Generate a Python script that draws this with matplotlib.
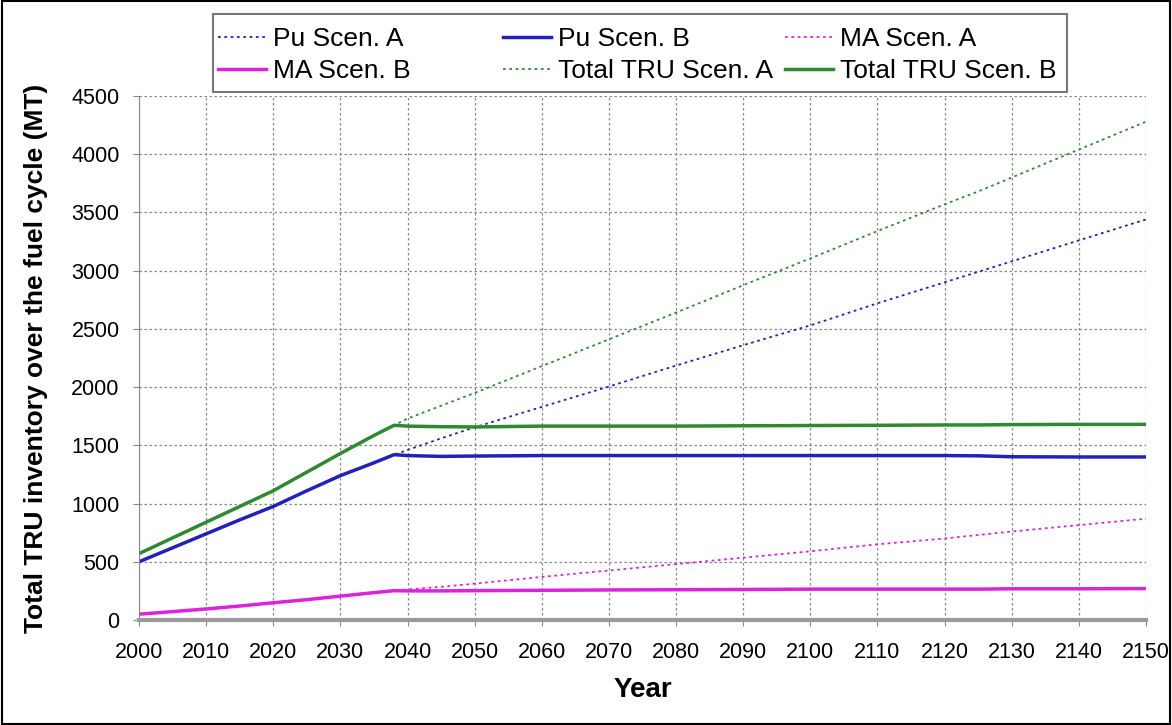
import matplotlib
matplotlib.use("Agg")
import matplotlib.pyplot as plt
from matplotlib.patches import Rectangle

years = [2000, 2005, 2010, 2015, 2020, 2025, 2030, 2035, 2038, 2040, 2045, 2050,
         2060, 2070, 2080, 2090, 2100, 2110, 2120, 2125, 2130, 2140, 2150]

pu_a = [500, 620, 740, 860, 975, 1110, 1240, 1350, 1420, 1460, 1560, 1655,
        1830, 2005, 2185, 2360, 2530, 2720, 2900, 2990, 3080, 3260, 3440]
pu_b = [500, 620, 740, 860, 975, 1110, 1240, 1350, 1420, 1412, 1405, 1408,
        1412, 1412, 1412, 1412, 1412, 1412, 1412, 1410, 1402, 1400, 1400]
ma_a = [50, 72, 95, 120, 148, 175, 205, 235, 255, 262, 285, 312,
        370, 425, 480, 535, 590, 650, 700, 730, 760, 815, 870]
ma_b = [50, 72, 95, 120, 148, 175, 205, 235, 252, 250, 250, 252,
        255, 258, 260, 262, 265, 265, 265, 265, 268, 268, 270]
tru_a = [570, 705, 840, 975, 1110, 1270, 1430, 1585, 1672, 1730, 1840, 1950,
         2180, 2410, 2640, 2875, 3105, 3340, 3570, 3680, 3800, 4040, 4280]
tru_b = [570, 705, 840, 975, 1110, 1270, 1430, 1585, 1672, 1665, 1660, 1658,
         1665, 1665, 1665, 1668, 1670, 1672, 1675, 1675, 1678, 1680, 1680]

xticks = list(range(2000, 2151, 10))
yticks = list(range(0, 4501, 500))

blue = "#2222bb"
mag = "#dd22dd"
green = "#2f8a2f"

plt.rcParams['font.family'] = ['Liberation Sans', 'DejaVu Sans']

W, H = 1172, 725
fig = plt.figure(figsize=(W / 100, H / 100), dpi=100)
ax = fig.add_axes([139 / W, 1 - 620 / H, (1146 - 139) / W, (620 - 96) / H])

l1, = ax.plot(years, pu_a, color=blue, lw=1.3, ls=(0, (1.5, 2)), label="Pu Scen. A")
l2, = ax.plot(years, pu_b, color=blue, lw=2.5, label="Pu Scen. B")
l3, = ax.plot(years, ma_a, color=mag, lw=1.3, ls=(0, (1.5, 2)), label="MA Scen. A")
l4, = ax.plot(years, ma_b, color=mag, lw=2.5, label="MA Scen. B")
l5, = ax.plot(years, tru_a, color=green, lw=1.3, ls=(0, (1.5, 2)), label="Total TRU Scen. A")
l6, = ax.plot(years, tru_b, color=green, lw=2.5, label="Total TRU Scen. B")

ax.set_xlim(2000, 2150)
ax.set_ylim(0, 4500)
ax.set_xticks(xticks)
ax.set_yticks(yticks)
ax.tick_params(labelsize=15.5, length=4, color="#888888")
ax.tick_params(axis="x", pad=12)
ax.tick_params(axis="y", pad=10)
ax.grid(True, color="#888888", ls=(0, (2, 2)), lw=0.9)
ax.set_axisbelow(True)
for s in ["top", "right"]:
    ax.spines[s].set_visible(False)
ax.spines["left"].set_color("#888888")
ax.spines["bottom"].set_color("#999999")
ax.spines["bottom"].set_linewidth(3)

ax.set_xlabel("Year", fontsize=20, fontweight="bold", labelpad=10)
ax.set_ylabel("Total TRU inventory over the fuel cycle (MT)", fontsize=19,
              fontweight="bold", labelpad=17)

# legend: frame plus three equally spaced columns (Excel style)
fig.patches.append(Rectangle((213 / W, 1 - 92 / H), (1067 - 213) / W, (92 - 14) / H,
                             transform=fig.transFigure, fill=True, facecolor="white",
                             edgecolor="#777777", lw=1.5, zorder=5))
columns = [([l1, l4], 218), ([l2, l5], 503), ([l3, l6], 785)]
for hs, xpx in columns:
    lg = fig.legend(handles=hs, labels=[h.get_label() for h in hs],
                    loc="upper left", bbox_to_anchor=(xpx / W, 1 - 27 / H),
                    fontsize=19, frameon=False, handlelength=1.8,
                    handletextpad=0.3, borderpad=0, borderaxespad=0,
                    labelspacing=0.3)
    lg.set_zorder(6)

fig.patches.append(Rectangle((0.002, 0.002), 0.996, 0.996, transform=fig.transFigure,
                             fill=False, edgecolor="black", lw=1.5))

fig.savefig("out.png", dpi=100)
